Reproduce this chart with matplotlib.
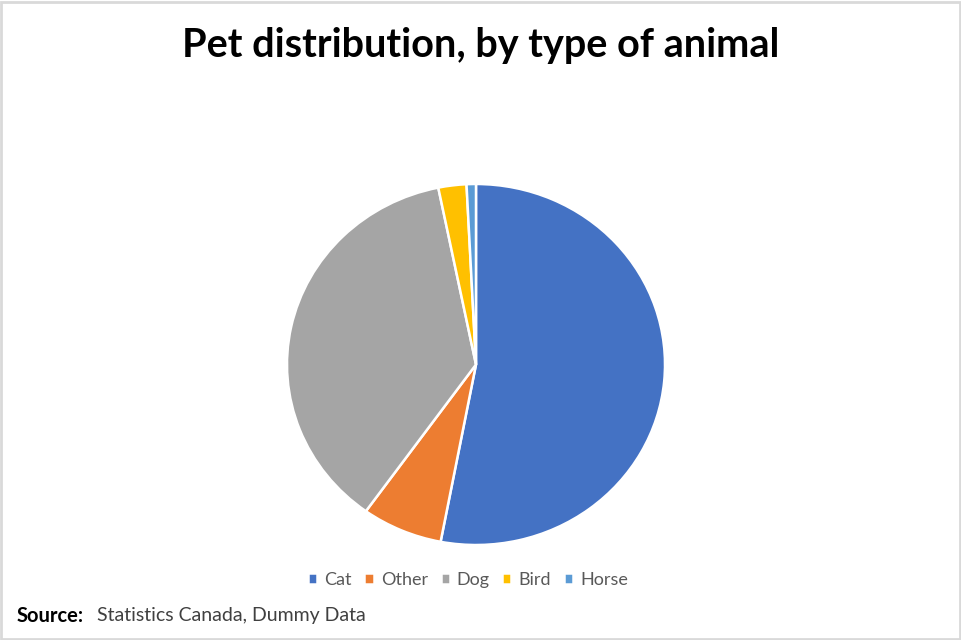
import matplotlib

matplotlib.use("Agg")
import matplotlib.pyplot as plt
from matplotlib.patches import Rectangle

plt.rcParams["font.family"] = ["Lato", "DejaVu Sans"]

# Share of pets by type of animal (%)
animals = ["Cat", "Other", "Dog", "Bird", "Horse"]
shares = [53.0, 6.9, 36.9, 2.4, 0.8]
slice_colors = ["#4472C4", "#ED7D31", "#A5A5A5", "#FFC000", "#5B9BD5"]

W, H = 961, 640
fig = plt.figure(figsize=(W / 100, H / 100), dpi=100)
fig.patch.set_facecolor("white")

# pie area in pixels: centre and radii (slightly wider than tall)
cx, cy, rx, ry = 476, 364.5, 189, 180.5
ax = fig.add_axes([(cx - rx) / W, (H - cy - ry) / H, 2 * rx / W, 2 * ry / H])
wedges, _ = ax.pie(
    shares,
    colors=slice_colors,
    startangle=90,
    counterclock=False,
    radius=1.0,
    wedgeprops=dict(edgecolor="white", linewidth=1.8),
)
ax.set_aspect("auto")
ax.set_xlim(-1, 1)
ax.set_ylim(-1, 1)
ax.axis("off")

fig.text(0.5, 1 - 45 / H, "Pet distribution, by type of animal",
         ha="center", va="center", fontsize=28.5, fontweight="bold", color="black")

fig.legend(
    wedges, animals,
    loc="center", bbox_to_anchor=(468 / W, 1 - 580 / H),
    ncol=5, frameon=False, fontsize=13,
    handlelength=0.5, handleheight=0.5, handletextpad=0.4,
    columnspacing=0.7, labelcolor="#595959",
)

fig.text(17 / W, 1 - 616 / H, "Source:", ha="left", va="center",
         fontsize=14.5, fontweight="bold", color="black")
fig.text(97 / W, 1 - 616 / H, "Statistics Canada, Dummy Data", ha="left",
         va="center", fontsize=14, color="#404040")

# thin grey frame around the whole chart
fig.patches.append(Rectangle((0.0015, 0.002), 0.997, 0.995, transform=fig.transFigure,
                             fill=False, edgecolor="#D9D9D9", linewidth=2))

fig.savefig("out.png", dpi=100)
